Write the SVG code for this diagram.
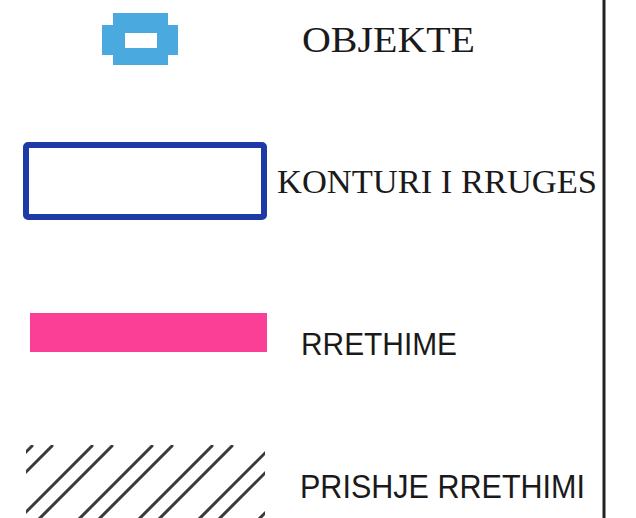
<svg xmlns="http://www.w3.org/2000/svg" width="636" height="518" viewBox="0 0 636 518">
<defs>
<style>
.serif{font-family:"Liberation Serif","Times New Roman",serif;fill:#1a1a1a}
.sans{font-family:"Liberation Sans",Arial,sans-serif;fill:#1a1a1a}
.hatch{stroke:#3a3a3a;stroke-width:3;stroke-linecap:round}
</style>
<clipPath id="hclip"><rect x="26" y="445" width="239" height="80"/></clipPath>
</defs>
<rect width="636" height="518" fill="#ffffff"/>
<line x1="604" y1="0" x2="604" y2="518" stroke="#222" stroke-width="3"/>
<g id="objekte">
<path d="M113,13 H168 V25 H178 V55 H168 V65 H113 V55 H102 V25 H113 Z M125,33 V48 H157 V33 Z" fill="#4aa9de" fill-rule="evenodd"/>
<text class="serif" x="302" y="52" font-size="36" textLength="173" lengthAdjust="spacingAndGlyphs">OBJEKTE</text>
</g>
<g id="konturi">
<rect x="26" y="145" width="238" height="72" rx="2" fill="#ffffff" stroke="#1d3aa6" stroke-width="6"/>
<text class="serif" x="277" y="193" font-size="34" textLength="320" lengthAdjust="spacingAndGlyphs">KONTURI I RRUGES</text>
</g>
<g id="rrethime">
<rect x="30" y="313" width="237" height="39" fill="#fb3f97"/>
<text class="sans" x="301" y="355" font-size="31" textLength="156" lengthAdjust="spacingAndGlyphs">RRETHIME</text>
</g>
<g id="prishje">
<g clip-path="url(#hclip)" class="hatch">
<line x1="32" y1="446" x2="-60" y2="538"/>
<line x1="52" y1="446" x2="-40" y2="538"/>
<line x1="92" y1="446" x2="0" y2="538"/>
<line x1="112" y1="446" x2="20" y2="538"/>
<line x1="152" y1="446" x2="60" y2="538"/>
<line x1="172" y1="446" x2="80" y2="538"/>
<line x1="212" y1="446" x2="120" y2="538"/>
<line x1="232" y1="446" x2="140" y2="538"/>
<line x1="272" y1="446" x2="180" y2="538"/>
<line x1="292" y1="446" x2="200" y2="538"/>
<line x1="332" y1="446" x2="240" y2="538"/>
<line x1="352" y1="446" x2="260" y2="538"/>
</g>
<text class="sans" x="300" y="498" font-size="33" textLength="285" lengthAdjust="spacingAndGlyphs">PRISHJE RRETHIMI</text>
</g>
</svg>
